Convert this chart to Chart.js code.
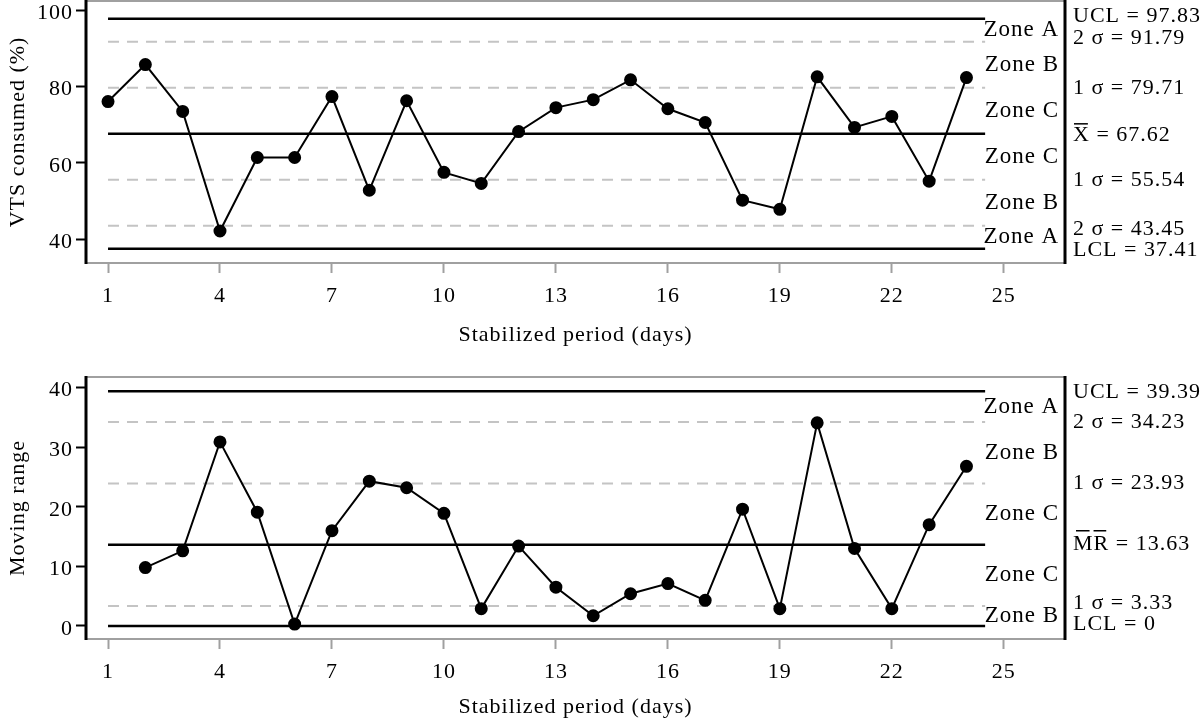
<!DOCTYPE html>
<html>
<head>
<meta charset="utf-8">
<script src="https://cdn.jsdelivr.net/npm/chart.js"></script>
<style>
    body { margin: 0; background: #fff; width: 1200px; height: 723px; overflow: hidden; }
    .box { position: absolute; left: 0; width: 1200px; }
    #top-box { top: 0; height: 362px; }
    #bot-box { top: 362px; height: 361px; }
</style>
</head>
<body>
<div class="box" id="top-box"><canvas id="vts-chart"></canvas></div>
<div class="box" id="bot-box"><canvas id="mr-chart"></canvas></div>
<script>
// Individuals chart (VTS consumed, %)
const vtsDays = [1, 2, 3, 4, 5, 6, 7, 8, 9, 10, 11, 12, 13, 14, 15, 16, 17, 18, 19, 20, 21, 22, 23, 24];
const vtsValues = [76.1, 85.8, 73.5, 42.1, 61.4, 61.4, 77.4, 52.8, 76.3, 57.5, 54.6, 68.2,
                   74.5, 76.6, 81.8, 74.2, 70.6, 50.2, 47.8, 82.6, 69.3, 72.2, 55.2, 82.4];
const vtsLimitValues = [97.83, 91.79, 79.71, 67.62, 55.54, 43.45, 37.41];
const vtsLimitNames = ['UCL', '2 σ', '1 σ', 'X', '1 σ', '2 σ', 'LCL'];
const vtsZoneNames = ['Zone A', 'Zone B', 'Zone C', 'Zone C', 'Zone B', 'Zone A'];
const vtsTicks = [40, 60, 80, 100];

// Moving range chart
const mrDays = [2, 3, 4, 5, 6, 7, 8, 9, 10, 11, 12, 13, 14, 15, 16, 17, 18, 19, 20, 21, 22, 23, 24];
const mrValues = [9.8, 12.6, 30.9, 19.1, 0.3, 16.0, 24.3, 23.2, 18.9, 2.9, 13.4, 6.5,
                  1.7, 5.4, 7.1, 4.3, 19.6, 2.9, 34.1, 13.0, 2.9, 17.0, 26.8];
const mrLimitValues = [39.39, 34.23, 23.93, 13.63, 3.33, 0];
const mrLimitNames = ['UCL', '2 σ', '1 σ', 'MR', '1 σ', 'LCL'];
const mrZoneNames = ['Zone A', 'Zone B', 'Zone C', 'Zone C', 'Zone B'];
const mrTicks = [0, 10, 20, 30, 40];

const xTickLabels = [1, 4, 7, 10, 13, 16, 19, 22, 25];
const limitSpan = [1, 24.5];

const FONT = '"Liberation Serif", "Times New Roman", serif';

function limitDataset(value, name) {
    const solid = !name.includes('σ');
    return {
        data: limitSpan.map(x => ({ x: x, y: value })),
        borderColor: solid ? '#000' : '#c4c4c4',
        borderWidth: solid ? 2.5 : 2,
        borderDash: solid ? [] : [11, 8],
        pointRadius: 0
    };
}

// the original uses a slightly loose serif, so widen the letters a bit
const spacingPlugin = {
    id: 'spacing',
    beforeLayout(chart) { chart.ctx.letterSpacing = '1px'; },
    beforeDraw(chart) { chart.ctx.letterSpacing = '1px'; }
};

const framePlugin = {
    id: 'frame',
    beforeDatasetsDraw(chart) {
        const { ctx, chartArea: a } = chart;
        ctx.save();
        ctx.strokeStyle = '#a0a0a0';
        ctx.lineWidth = 2;
        ctx.strokeRect(a.left, a.top, a.right - a.left, a.bottom - a.top);
        ctx.strokeStyle = '#000';
        ctx.lineWidth = 3;
        ctx.beginPath();
        ctx.moveTo(a.left, a.top - 1);
        ctx.lineTo(a.left, a.bottom + 1);
        ctx.moveTo(a.right, a.top - 1);
        ctx.lineTo(a.right, a.bottom + 1);
        ctx.stroke();
        ctx.restore();
    }
};

const labelPlugin = {
    id: 'limitLabels',
    afterDraw(chart) {
        const { ctx, chartArea: a } = chart;
        const y = chart.scales.y;
        const opts = chart.options.plugins.limitLabels;
        ctx.save();
        ctx.fillStyle = '#000';
        ctx.textBaseline = 'middle';

        ctx.font = '23px ' + FONT;
        ctx.textAlign = 'right';
        opts.zones.forEach((z, i) => {
            const mid = (opts.values[i] + opts.values[i + 1]) / 2;
            ctx.fillText(z, a.right - 6, y.getPixelForValue(mid));
        });

        ctx.font = '22px ' + FONT;
        ctx.textAlign = 'left';
        const x0 = a.right + 8;
        opts.values.forEach((v, i) => {
            const py = y.getPixelForValue(v) + (opts.shift[i] || 0);
            const name = opts.names[i];
            ctx.fillText(name + ' = ' + v, x0, py);
            // overbars for the centre-line symbols
            ctx.lineWidth = 1.5;
            ctx.strokeStyle = '#000';
            if (name === 'X') {
                const w = ctx.measureText('X').width;
                ctx.beginPath();
                ctx.moveTo(x0 + 1, py - 11);
                ctx.lineTo(x0 + w - 2, py - 11);
                ctx.stroke();
            } else if (name === 'MR') {
                const wm = ctx.measureText('M').width;
                const wr = ctx.measureText('R').width;
                ctx.beginPath();
                ctx.moveTo(x0 + 3, py - 13);
                ctx.lineTo(x0 + wm - 4, py - 13);
                ctx.moveTo(x0 + wm, py - 13);
                ctx.lineTo(x0 + wm + wr - 3, py - 13);
                ctx.stroke();
            }
        });
        ctx.restore();
    }
};

function buildChart(canvasId, cfg) {
    const tickFont = { family: FONT, size: 22 };
    const titleFont = { family: FONT, size: 22 };
    return new Chart(document.getElementById(canvasId), {
        type: 'line',
        data: {
            datasets: [{
                data: cfg.days.map((d, i) => ({ x: d, y: cfg.values[i] })),
                borderColor: '#000',
                borderWidth: 2,
                pointRadius: 5.5,
                pointBackgroundColor: '#000',
                pointBorderColor: '#000',
                tension: 0
            }].concat(cfg.limits.map((v, i) => limitDataset(v, cfg.names[i])))
        },
        options: {
            responsive: true,
            maintainAspectRatio: false,
            animation: false,
            layout: { autoPadding: false, padding: { top: cfg.padTop, right: 135, left: 0, bottom: 0 } },
            plugins: {
                legend: { display: false },
                tooltip: { enabled: false },
                limitLabels: { values: cfg.limits, names: cfg.names, zones: cfg.zones, shift: cfg.shift }
            },
            scales: {
                x: {
                    type: 'linear',
                    min: 0.41,
                    max: 26.64,
                    afterBuildTicks: s => { s.ticks = xTickLabels.map(v => ({ value: v })); },
                    afterFit: s => { s.height = cfg.xHeight; s.paddingLeft = 0; s.paddingRight = 0; },
                    grid: { drawOnChartArea: false, drawTicks: true, tickLength: 10, tickColor: '#a0a0a0', tickWidth: 2 },
                    border: { display: false },
                    ticks: { font: tickFont, color: '#000', padding: 10, maxRotation: 0, autoSkip: false },
                    title: { display: true, text: 'Stabilized period (days)', font: titleFont, color: '#000', padding: { top: 0, bottom: cfg.titlePad } }
                },
                y: {
                    min: cfg.yMin,
                    max: cfg.yMax,
                    afterBuildTicks: s => { s.ticks = cfg.ticks.map(v => ({ value: v })); },
                    afterFit: s => { s.width = 86; s.paddingTop = 0; s.paddingBottom = 0; },
                    grid: { drawOnChartArea: false, drawTicks: true, tickLength: 10, tickColor: '#000', tickWidth: 2 },
                    border: { display: false },
                    ticks: { font: tickFont, color: '#000', padding: 3, labelOffset: 3 },
                    title: { display: true, text: cfg.yTitle, font: titleFont, color: '#000', padding: { top: 5, bottom: 0 } }
                }
            }
        },
        plugins: [spacingPlugin, framePlugin, labelPlugin]
    });
}

buildChart('vts-chart', {
    days: vtsDays, values: vtsValues,
    limits: vtsLimitValues, names: vtsLimitNames, zones: vtsZoneNames,
    shift: [-3, -4, 0, 1, 0, 3, 1],
    ticks: vtsTicks, yMin: 33.7, yMax: 102.5,
    yTitle: 'VTS consumed (%)',
    padTop: 1, xHeight: 99, titlePad: 14
});

buildChart('mr-chart', {
    days: mrDays, values: mrValues,
    limits: mrLimitValues, names: mrLimitNames, zones: mrZoneNames,
    shift: [1, 0, 0, -1, -3, -2],
    ticks: mrTicks, yMin: -2.2, yMax: 41.8,
    yTitle: 'Moving range',
    padTop: 15, xHeight: 84, titlePad: 3
});
</script>
</body>
</html>
